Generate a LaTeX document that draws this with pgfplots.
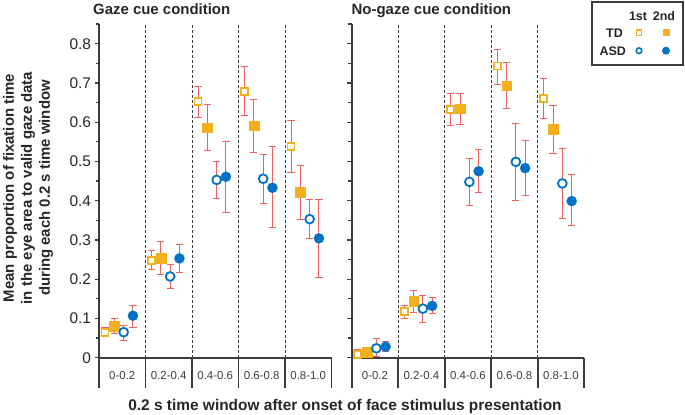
\documentclass[border=0pt]{standalone}
\usepackage{fontspec}
\setmainfont{Liberation Sans}
\usepackage{pgfplots}
\pgfplotsset{compat=1.18}
\usepackage{pgfplotstable}

\definecolor{tdor}{RGB}{242,176,30}
\definecolor{asdbl}{RGB}{0,114,198}
\definecolor{errred}{RGB}{240,96,96}
\definecolor{axgray}{RGB}{60,60,60}

% columns: category, then mean / lower / upper for TD 1st, TD 2nd, ASD 1st, ASD 2nd
\pgfplotstableread{
c y1 l1 h1 y2 l2 h2 y3 l3 h3 y4 l4 h4
0 0.065 0.054 0.078 0.081 0.062 0.100 0.065 0.044 0.083 0.107 0.078 0.134
1 0.248 0.224 0.272 0.254 0.212 0.295 0.207 0.177 0.238 0.253 0.218 0.289
2 0.652 0.613 0.690 0.586 0.527 0.645 0.453 0.405 0.501 0.461 0.370 0.552
3 0.679 0.618 0.741 0.591 0.524 0.658 0.456 0.393 0.518 0.433 0.331 0.538
4 0.538 0.471 0.604 0.422 0.353 0.490 0.353 0.303 0.402 0.304 0.205 0.402
}\gazetab

\pgfplotstableread{
c y1 l1 h1 y2 l2 h2 y3 l3 h3 y4 l4 h4
0 0.009 0.000 0.020 0.014 0.002 0.026 0.024 0.003 0.048 0.028 0.015 0.041
1 0.117 0.101 0.132 0.144 0.116 0.172 0.125 0.090 0.159 0.132 0.112 0.153
2 0.633 0.591 0.672 0.635 0.595 0.674 0.448 0.389 0.507 0.475 0.420 0.531
3 0.743 0.697 0.786 0.693 0.635 0.753 0.499 0.400 0.597 0.483 0.413 0.554
4 0.661 0.610 0.711 0.582 0.520 0.643 0.444 0.355 0.532 0.399 0.336 0.467
}\nogazetab

\pgfplotsset{
  panel/.style={
    x=46.5bp, y=392.5bp,
    xmin=0, xmax=5, ymin=0, ymax=0.85,
    anchor=origin, clip=false,
    axis lines*=left,
    axis line style={axgray, line width=1.8bp},
    xtick={0.5,1.5,2.5,3.5,4.5},
    xticklabels={0-0.2,0.2-0.4,0.4-0.6,0.6-0.8,0.8-1.0},
    x tick style={draw=none},
    xticklabel style={font=\fontsize{11.5}{13}\selectfont, color=axgray, anchor=base, yshift=-17.5bp},
    ytick={0,0.1,0.2,0.3,0.4,0.5,0.6,0.7,0.8},
    minor ytick={0.05,0.15,0.25,0.35,0.45,0.55,0.65,0.75,0.85},
    tick align=outside,
    major tick length=4.5bp, minor tick length=3.5bp,
    y tick style={axgray, line width=1.3bp},
    yticklabel style={font=\fontsize{15.5}{18}\selectfont, color=black!85},
    /pgf/number format/assume math mode=true,
  },
  ebar/.style={
    error bars/.cd, y dir=both, y explicit,
    error bar style={errred, line width=1bp},
    error mark options={errred, mark size=3.6bp, line width=1bp, rotate=90},
  },
  td1/.style={only marks, mark=square*, mark size=3.5bp,
    mark options={draw=tdor, fill=white, line width=1.8bp}},
  td2/.style={only marks, mark=square*, mark size=4.8bp,
    mark options={draw=tdor, fill=tdor, line width=0.2bp}},
  asd1/.style={only marks, mark=*, mark size=4.4bp,
    mark options={draw=asdbl, fill=white, line width=1.8bp}},
  asd2/.style={only marks, mark=*, mark size=5.1bp,
    mark options={draw=asdbl, fill=asdbl, line width=0.2bp}},
}

\newcommand{\panelplots}[1]{%
  \addplot[td1, ebar] table[x expr=\thisrow{c}+0.13, y=y1,
    y error plus expr=\thisrow{h1}-\thisrow{y1}, y error minus expr=\thisrow{y1}-\thisrow{l1}] {#1};
  \addplot[td2, ebar] table[x expr=\thisrow{c}+0.33, y=y2,
    y error plus expr=\thisrow{h2}-\thisrow{y2}, y error minus expr=\thisrow{y2}-\thisrow{l2}] {#1};
  \addplot[asd1, ebar] table[x expr=\thisrow{c}+0.53, y=y3,
    y error plus expr=\thisrow{h3}-\thisrow{y3}, y error minus expr=\thisrow{y3}-\thisrow{l3}] {#1};
  \addplot[asd2, ebar] table[x expr=\thisrow{c}+0.73, y=y4,
    y error plus expr=\thisrow{h4}-\thisrow{y4}, y error minus expr=\thisrow{y4}-\thisrow{l4}] {#1};
  \pgfplotsinvokeforeach{1,2,3,4}{%
    \draw[axgray, line width=0.8bp, dash pattern=on 3bp off 2bp] (axis cs:##1,0) -- (axis cs:##1,0.85);}
  \pgfplotsinvokeforeach{0,1,2,3,4,5}{%
    \draw[axgray, line width=1.8bp] (axis cs:##1,0) -- ++(0,-30.5bp);}
}

\begin{document}
\begin{tikzpicture}
\useasboundingbox (0,0) rectangle (685bp,-415bp);

\begin{axis}[panel, at={(99bp,-357.7bp)}]
\panelplots{\gazetab}
\end{axis}

\begin{axis}[panel, at={(351.7bp,-357.7bp)}, yticklabels={}]
\panelplots{\nogazetab}
\end{axis}

% titles and axis labels
\node[anchor=base west, font=\bfseries\fontsize{15}{18}\selectfont, text=black!85, inner sep=0]
  at (93bp,-14bp) {Gaze cue condition};
\node[anchor=base west, font=\bfseries\fontsize{15}{18}\selectfont, text=black!85, inner sep=0]
  at (351.5bp,-14bp) {No-gaze cue condition};
\node[rotate=90, align=center, font=\bfseries\fontsize{15}{18}\selectfont, text=black!85, inner sep=0]
  at (28bp,-188bp) {Mean proportion of fixation time\\in the eye area to valid gaze data\\during each 0.2 s time window};
\node[anchor=base, font=\bfseries\fontsize{15.5}{18}\selectfont, text=black!85, inner sep=0]
  at (345bp,-410bp) {0.2 s time window after onset of face stimulus presentation};

% legend
\draw[axgray, line width=1.5bp] (592bp,-2bp) rectangle (683bp,-65bp);
\begin{scope}[font=\bfseries\fontsize{12.5}{14}\selectfont, text=black!85, inner sep=0]
\node[anchor=base] at (638bp,-20bp) {1st};
\node[anchor=base] at (664bp,-20bp) {2nd};
\node[anchor=base east] at (623bp,-37bp) {TD};
\node[anchor=base east] at (626bp,-55bp) {ASD};
\end{scope}
\draw[tdor, line width=1.6bp, fill=white] (636.4bp,-35.3bp) rectangle (641.6bp,-30.1bp);
\fill[tdor] (662.5bp,-36.2bp) rectangle (669.5bp,-29.2bp);
\draw[asdbl, line width=1.6bp, fill=white] (639bp,-50.7bp) circle (2.8bp);
\fill[asdbl] (666bp,-50.7bp) circle (4bp);
\end{tikzpicture}
\end{document}
